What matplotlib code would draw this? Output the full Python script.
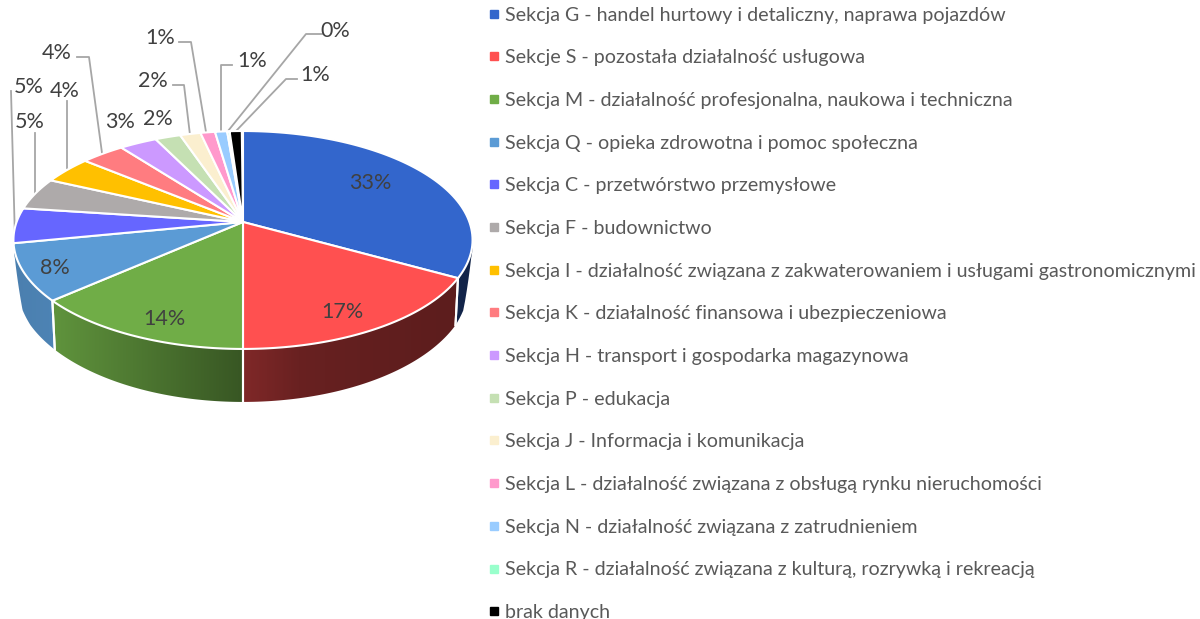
import numpy as np
import matplotlib
matplotlib.use('Agg')
import matplotlib.pyplot as plt
from matplotlib.lines import Line2D
from matplotlib.patches import Polygon

categories = [
    'Sekcja G - handel hurtowy i detaliczny, naprawa pojazdów',
    'Sekcje S - pozostała działalność usługowa',
    'Sekcja M - działalność profesjonalna, naukowa i techniczna',
    'Sekcja Q - opieka zdrowotna i pomoc społeczna',
    'Sekcja C - przetwórstwo przemysłowe',
    'Sekcja F - budownictwo',
    'Sekcja I - działalność związana z zakwaterowaniem i usługami gastronomicznymi',
    'Sekcja K - działalność finansowa i ubezpieczeniowa',
    'Sekcja H - transport i gospodarka magazynowa',
    'Sekcja P - edukacja',
    'Sekcja J - Informacja i komunikacja',
    'Sekcja L - działalność związana z obsługą rynku nieruchomości',
    'Sekcja N - działalność związana z zatrudnieniem',
    'Sekcja R - działalność związana z kulturą, rozrywką i rekreacją',
    'brak danych',
]
values = [33.1, 16.9, 13.5, 8.4, 5.2, 4.8, 4.1, 3.6, 3.1, 2.1, 1.7, 1.2, 1.0, 0.2, 1.0]
colors = ['#3366CC', '#FF5050', '#70AD47', '#5B9BD5', '#6666FF', '#AEAAAA', '#FFC000',
          '#FF7C80', '#CC99FF', '#C5E0B3', '#FBEFCF', '#FF99CC', '#99CCFF', '#99FFCC', '#000000']

# pie geometry in pixels, the pie is seen in perspective
CX, CY = 243, 222
SCALE_X, SCALE_Y, TILT = 226.4, 106, 0.165


def top_rim(angle):
    # angle runs clockwise from 12 o'clock, in radians
    px = np.sin(angle)
    py = np.cos(angle)
    w = 1 + TILT * py
    return SCALE_X * px / w, SCALE_Y * py / w


def to_pixels(dx, dy):
    return np.column_stack([CX + dx, CY - dy])


def lower_rim(angle):
    # the wall closes up where the rim turns backwards
    dx, dy = top_rim(angle)
    low_y = np.interp(dy, [-127, -79, -56, -44, -30, 300], [-180, -128, -103, -88, -36, 294])
    low_x = np.interp(dy, [-127, -44, -30], [0.985, 0.989, 1.0]) * dx
    return low_x, low_y


def shade(x):
    return np.interp(x, [14, 55, 243, 300, 350, 472], [0.82, 0.85, 0.5, 0.41, 0.39, 0.36])


fig = plt.figure(figsize=(12, 6.19), dpi=100)
ax = fig.add_axes([0, 0, 1, 1])
plt.rcParams['font.family'] = ['Lato', 'DejaVu Sans']

edges = np.radians(np.cumsum([0] + values) * 3.6)

# side walls first, the top faces cover the back part of them
for start, stop, color in zip(edges[:-1], edges[1:], colors):
    t = np.linspace(start, stop, 80)
    upper = to_pixels(*top_rim(t))
    lower = to_pixels(*lower_rim(t))
    outline = np.vstack([upper, lower[::-1]])
    wall = Polygon(outline, closed=True, facecolor='none', edgecolor='none')
    ax.add_patch(wall)
    x0, x1 = outline[:, 0].min(), outline[:, 0].max()
    xs = np.linspace(x0, x1, 200)
    base = np.array(matplotlib.colors.to_rgb(color))
    gradient = base[None, None, :] * shade(xs)[None, :, None]
    im = ax.imshow(gradient, extent=[x0, x1, outline[:, 1].max(), outline[:, 1].min()],
                   aspect='auto', interpolation='bilinear', zorder=1)
    im.set_clip_path(wall)
    ax.plot([upper[0, 0], lower[0, 0]], [upper[0, 1], lower[0, 1]], color='white', lw=1.5, zorder=2)
    ax.plot([upper[-1, 0], lower[-1, 0]], [upper[-1, 1], lower[-1, 1]], color='white', lw=1.5, zorder=2)

# top faces
for start, stop, color in zip(edges[:-1], edges[1:], colors):
    t = np.linspace(start, stop, 80)
    rim = to_pixels(*top_rim(t))
    face = np.vstack([[CX, CY], rim])
    ax.add_patch(Polygon(face, closed=True, facecolor=color, edgecolor='white', lw=1.5, zorder=3))

ax.set_xlim(0, 1200)
ax.set_ylim(619, 0)
ax.axis('off')

# percent labels inside the pie, and outside ones with their leader lines
label_xy = [(370, 183), (342, 312), (164, 319), (55, 268), (29, 87), (30, 122), (65, 91), (57, 53),
            (120, 122), (158, 119), (153, 81), (160, 38), (252, 61), (335, 31), (315, 75)]
leaders = {
    4: [(11, 91), (15, 240)],
    5: [(35, 133), (35, 193)],
    6: [(67, 101), (67, 168)],
    7: [(77, 57), (89, 57), (102, 153)],
    10: [(173, 85), (184, 85), (190, 135)],
    11: [(179, 42), (191, 42), (206, 132)],
    12: [(232, 65), (221, 65), (221, 131)],
    13: [(322, 34), (306, 34), (228, 131)],
    14: [(297, 79), (286, 79), (236, 131)],
}
for i, pts in leaders.items():
    ax.plot(*zip(*pts), color='#A6A6A6', lw=1.3, zorder=2)
for (x, y), v in zip(label_xy, values):
    ax.text(x, y, f'{round(v)}%', fontsize=15.5, color='#404040', ha='center', va='center', zorder=4)

handles = [Line2D([], [], linestyle='none', marker='s', markersize=5.5, color=c) for c in colors]
ax.legend(handles, categories, loc='upper left', bbox_to_anchor=(484 / 1200, 1 - 6.5 / 619), frameon=False,
          fontsize=14.15, labelcolor='#595959', labelspacing=1.307, handletextpad=0.1, borderpad=0, borderaxespad=0,
          handlelength=0.968)

fig.savefig('out.png', dpi=100)
